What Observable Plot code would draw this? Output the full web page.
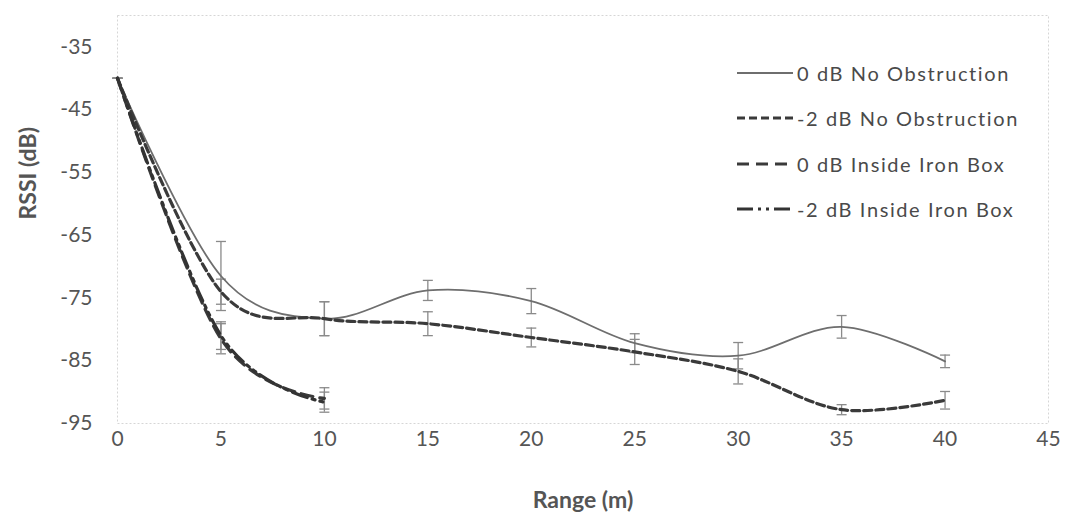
<!DOCTYPE html>
<html>
<head>
<meta charset="utf-8">
<script src="https://cdn.jsdelivr.net/npm/d3@7"></script>
<script src="https://cdn.jsdelivr.net/npm/@observablehq/plot@0.6"></script>
<style>
  html, body { margin: 0; padding: 0; background: #fff; }
  #wrap { position: relative; width: 1067px; height: 515px; overflow: hidden; font-family: Lato, "Open Sans", sans-serif; }
  #legend { position: absolute; left: 736px; top: 50px; }
  .row { display: flex; align-items: center; height: 45.5px; }
  .row svg { display: block; margin-right: 3px; }
  .row span { font-size: 20px; color: #4a4a4a; letter-spacing: 1.6px; white-space: nowrap; }
</style>
</head>
<body>
<div id="wrap"><div id="chart"></div><div id="legend"></div></div>
<script>
// ---- data ----
const ranges = [0, 5, 10, 15, 20, 25, 30, 35, 40];
const rangesBox = [0, 5, 10];

const rssi0dBNoObs   = [-40, -71.5, -78.3, -73.8, -75.5, -82.2, -84.2, -79.6, -85.1];
const err0dBNoObs    = [0, 5.5, 2.7, 1.6, 2.0, 1.5, 2.1, 1.8, 1.0];
const rssiM2dBNoObs  = [-40, -74.0, -78.3, -79.1, -81.3, -83.6, -86.7, -92.8, -91.3];
const errM2dBNoObs   = [0, 2.0, 2.7, 1.9, 1.5, 2.0, 2.0, 0.8, 1.4];
const rssi0dBBox     = [-40, -81.5, -91.0];
const err0dBBox      = [0, 2.4, 1.7];
const rssiM2dBBox    = [-40, -81.0, -91.6];
const errM2dBBox     = [0, 2.2, 1.6];

const seriesNames = ["0 dB No Obstruction", "-2 dB No Obstruction", "0 dB Inside Iron Box", "-2 dB Inside Iron Box"];
const xTicks = [0, 5, 10, 15, 20, 25, 30, 35, 40, 45];
const yTicks = [-95, -85, -75, -65, -55, -45, -35];

// ---- styles ----
const styles = [
  {stroke: "#6e6e6e", strokeWidth: 1.8, dash: null},
  {stroke: "#3a3a3a", strokeWidth: 3.2, dash: "8,4"},
  {stroke: "#3a3a3a", strokeWidth: 3.2, dash: "12,7"},
  {stroke: "#333333", strokeWidth: 3.2, dash: "16,5,3,5,3,5"}
];

const seriesData = [
  {xs: ranges, ys: rssi0dBNoObs, es: err0dBNoObs},
  {xs: ranges, ys: rssiM2dBNoObs, es: errM2dBNoObs},
  {xs: rangesBox, ys: rssi0dBBox, es: err0dBBox},
  {xs: rangesBox, ys: rssiM2dBBox, es: errM2dBBox}
];

const rows = seriesData.map((s, i) =>
  s.xs.map((x, j) => ({series: seriesNames[i], x, y: s.ys[j], lo: s.ys[j] - s.es[j], hi: s.ys[j] + s.es[j]}))
);

const cap = {draw(ctx) { ctx.moveTo(-5, 0); ctx.lineTo(5, 0); }};
const errStroke = "#8a8a8a";

const marks = [
  Plot.frame({stroke: "#d6d6d6", strokeDasharray: "2,2"}),
  Plot.axisX({ticks: xTicks, tickSize: 0, tickPadding: 8, fontSize: 21, label: null, tickFormat: d => String(d)}),
  Plot.axisY({ticks: yTicks, tickSize: 0, tickPadding: 25, fontSize: 21, label: null, tickFormat: d => String(d).replace("−", "-")}),
];
// error bars
rows.forEach(r => {
  marks.push(Plot.ruleX(r, {x: "x", y1: "lo", y2: "hi", stroke: errStroke, strokeWidth: 1.3}));
  marks.push(Plot.dot(r, {x: "x", y: "lo", symbol: cap, stroke: errStroke, strokeWidth: 1.3, fill: "none"}));
  marks.push(Plot.dot(r, {x: "x", y: "hi", symbol: cap, stroke: errStroke, strokeWidth: 1.3, fill: "none"}));
});
// lines
rows.forEach((r, i) => {
  const st = styles[i];
  marks.push(Plot.line(r, {x: "x", y: "y", curve: "cardinal", stroke: st.stroke, strokeWidth: st.strokeWidth,
    strokeDasharray: st.dash || undefined}));
});
marks.push(Plot.text(["Range (m)"], {frameAnchor: "bottom", dy: 84, text: d => d, fontSize: 23, fontWeight: "bold", fill: "#555"}));
marks.push(Plot.text(["RSSI (dB)"], {frameAnchor: "left", dx: -89, rotate: -90, text: d => d, fontSize: 23, fontWeight: "bold", fill: "#555"}));

const chart = Plot.plot({
  width: 1067,
  height: 515,
  marginLeft: 117,
  marginRight: 19,
  marginTop: 15,
  marginBottom: 92,
  style: {fontFamily: "Lato, 'Open Sans', sans-serif", color: "#555", background: "#fff", overflow: "visible"},
  x: {domain: [0, 45], label: null},
  y: {domain: [-95, -30], label: null},
  marks
});
document.getElementById("chart").appendChild(chart);

// legend
const legend = document.getElementById("legend");
seriesNames.forEach((name, i) => {
  const st = styles[i];
  const row = document.createElement("div");
  row.className = "row";
  row.innerHTML = `<svg width="58" height="10"><line x1="1" y1="5" x2="57" y2="5" stroke="${st.stroke}" stroke-width="${st.strokeWidth}" ${st.dash ? `stroke-dasharray="${st.dash}"` : ""}/></svg><span>${name}</span>`;
  legend.appendChild(row);
});
</script>
</body>
</html>
